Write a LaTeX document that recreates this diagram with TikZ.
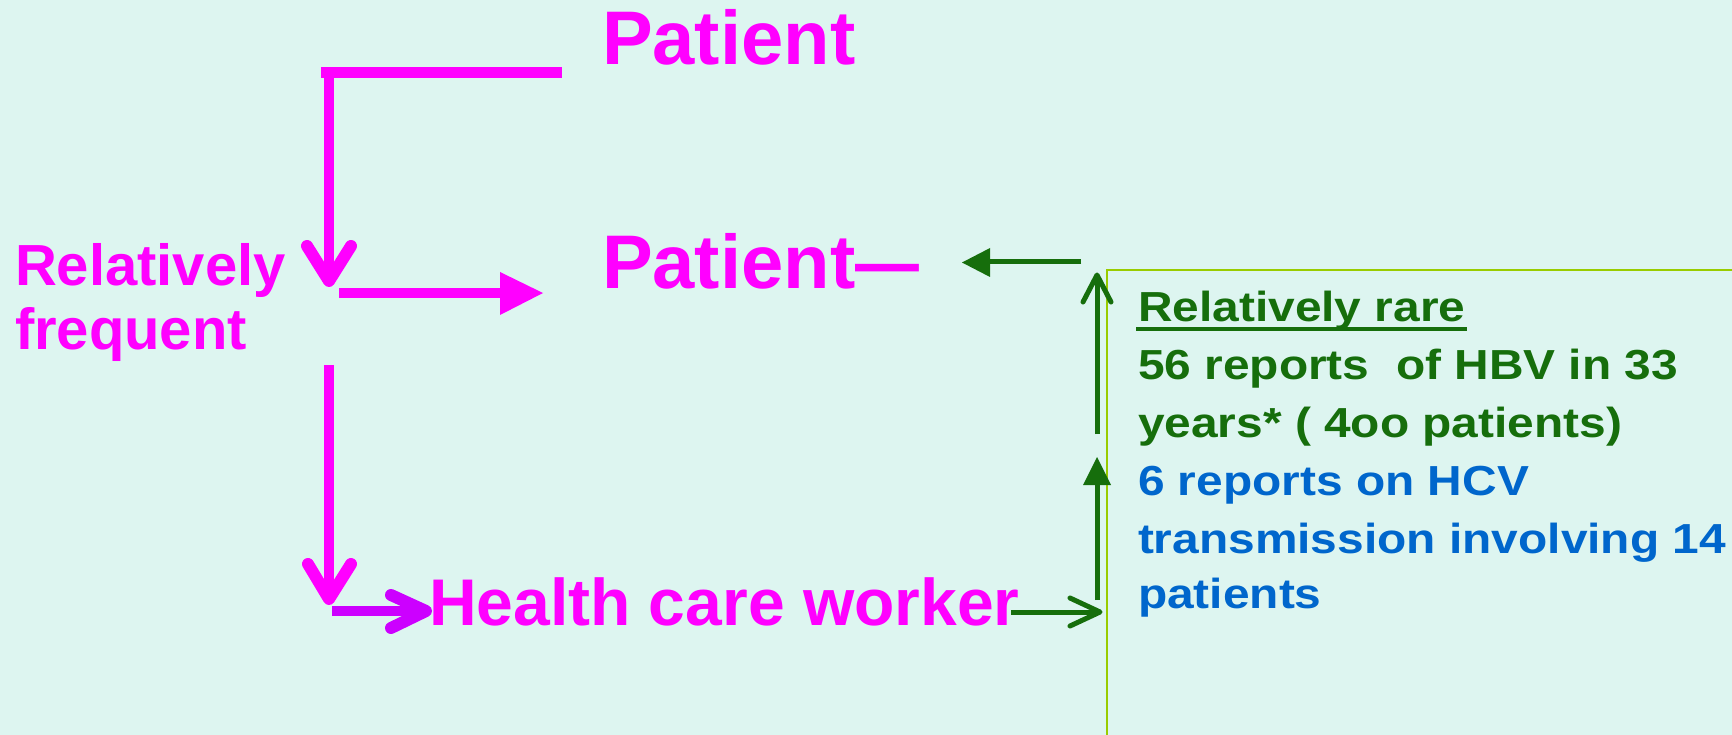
\documentclass[tikz,border=0pt]{standalone}
\usepackage{fontspec}
\usepackage{graphicx}
\usetikzlibrary{calc}
\setmainfont{Liberation Sans}
\newfontfamily\widefont[FakeStretch=1.14]{Liberation Sans}
\definecolor{bg}{RGB}{221,245,240}
\definecolor{mag}{RGB}{255,0,255}
\definecolor{vio}{RGB}{204,0,255}
\definecolor{dgreen}{RGB}{22,110,12}
\definecolor{hblue}{RGB}{0,102,204}
\definecolor{ygreen}{RGB}{153,204,0}
\begin{document}
\begin{tikzpicture}[x=1pt,y=-1pt,
  txt/.style={inner sep=0pt, outer sep=0pt, anchor=base west},
  bigtxt/.style={txt, text=mag, font=\bfseries\fontsize{76}{90}\selectfont},
  midtxt/.style={txt, text=mag, font=\bfseries\fontsize{58}{63}\selectfont},
  hcwtxt/.style={txt, text=mag, font=\bfseries\fontsize{66}{80}\selectfont},
  gtxt/.style={txt, text=dgreen, font=\widefont\bfseries\fontsize{42}{57}\selectfont},
  btxt/.style={txt, text=hblue, font=\widefont\bfseries\fontsize{42}{57}\selectfont},
  magline/.style={draw=mag, line width=10pt},
  magvee/.style={draw=mag, line width=12pt, line cap=round, line join=round},
  violine/.style={draw=vio, line width=10pt},
  viovee/.style={draw=vio, line width=12pt, line cap=round, line join=round},
  gline/.style={draw=dgreen, line width=5pt},
  gvee/.style={draw=dgreen, line width=5pt, line cap=round, line join=round},
  border/.style={draw=ygreen, line width=2pt}]
\useasboundingbox (0,0) rectangle (1732,735);
\fill[bg] (0,0) rectangle (1732,735);

% texts
\node[bigtxt] (p1) at (602,65) {Patient};
\node[bigtxt] (p2) at (602,289) {Patient\scalebox{0.84}[1]{—}};
\node[midtxt] (rf1) at (15,286) {Relatively};
\node[midtxt] (rf2) at (15,349) {frequent};
\node[hcwtxt] (hcw) at (429,625) {Health care worker};

\node[gtxt] (rr) at (1138,322) {Relatively rare};
\node[gtxt] (l2) at (1138,379) {56 reports\ \ of HBV in 33};
\node[gtxt] (l3) at (1138,437) {years* ( 4oo patients)};
\node[btxt] (l4) at (1138,495) {6 reports on HCV};
\node[btxt] (l5) at (1138,553) {transmission involving 14};
\node[btxt] (l6) at (1138,608) {patients};
\draw[draw=dgreen, line width=4pt] ($(rr.base west)+(-2,7)$) -- ($(rr.base east)+(2,7)$);

% box border
\draw[border] (1107,740) -- (1107,270) -- (1740,270);

% magenta structure
\coordinate (tl) at (321,73);
\coordinate (tr) at (562,73);
\draw[draw=mag, line width=11pt] (tl) -- (tr);
\coordinate (v1a) at (329,68);
\coordinate (v1b) at (329,281);
\draw[magline] (v1a) -- (v1b);
\draw[magvee] (307,246) -- (v1b) -- (351,246);

\coordinate (h1a) at (339,293);
\coordinate (h1b) at (501,293);
\draw[magline] (h1a) -- (h1b);
\fill[mag] (500,272) -- (543,293) -- (500,315) -- cycle;

\coordinate (v2a) at (329,365);
\coordinate (v2b) at (329,599);
\draw[magline] (v2a) -- (v2b);
\draw[magvee] (308,564) -- (v2b) -- (351,564);

\coordinate (pa) at (332,611);
\coordinate (pb) at (426,611);
\draw[violine] (pa) -- (pb);
\draw[viovee] (391,595) -- (pb) -- (391,628);

% green arrows
\coordinate (ga) at (1081,262);
\coordinate (gb) at (988,262);
\draw[gline] (ga) -- (gb);
\fill[dgreen] (990,248) -- (962,262.5) -- (990,277) -- cycle;

\coordinate (ua) at (1097,434);
\coordinate (ub) at (1097,276);
\draw[gline] (ua) -- (ub);
\draw[gvee] (1083,302) -- (1097,275) -- (1111,302);

\coordinate (la) at (1097,600);
\coordinate (lb) at (1097,484);
\draw[gline] (la) -- (lb);
\fill[dgreen] (1083,485) -- (1097,457) -- (1111,485) -- cycle;

\coordinate (ra) at (1011,612);
\coordinate (rb) at (1100,612);
\draw[gline] (ra) -- (rb);
\draw[gvee] (1070,598) -- (rb) -- (1070,626);
\end{tikzpicture}
\end{document}
